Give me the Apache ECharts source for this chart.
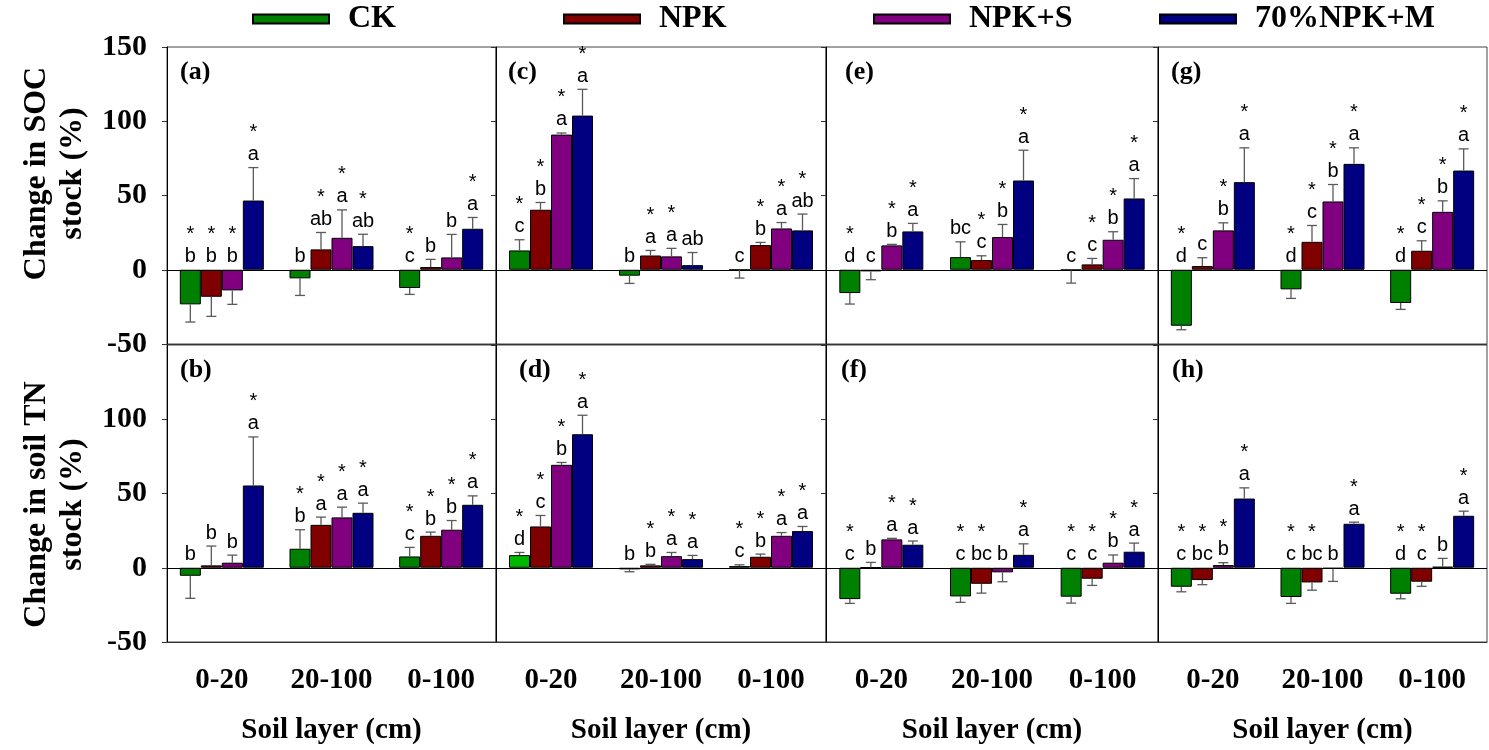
<!DOCTYPE html>
<html>
<head>
<meta charset="utf-8">
<title>Change in SOC and TN stock</title>
<script src="https://cdn.jsdelivr.net/npm/echarts@6/dist/echarts.min.js"></script>
<style>
  html, body { margin: 0; padding: 0; background: #fff; }
  #chart { width: 1489px; height: 750px; }
</style>
</head>
<body>
<div id="chart"></div>
<script>
// categories and treatments
var layers = ['0-20', '20-100', '0-100']
var treatments = ['CK', 'NPK', 'NPK+S', '70%NPK+M']
var colors = ['#008000', '#800000', '#800080', '#000080']

// values per treatment [CK, NPK, NPK+S, 70%NPK+M], each over the three layers
// '*x' = letter x with asterisk above
var meanA = [[-23.3, -5.8, -12.3], [-18.2, 13.7, 1.8], [-13.9, 21.5, 8.3], [46.6, 15.9, 27.6]]
var errA = [[11.9, 11.5, 4.3], [13.2, 11.4, 5.2], [9.4, 18.8, 15.5], [22.2, 8.0, 7.6]]
var sigA = [['*b', 'b', '*c'], ['*b', '*ab', 'b'], ['*b', '*a', 'b'], ['*a', '*ab', '*a']]

var meanB = [[-5.4, 12.8, 7.6], [1.6, 28.9, 21.5], [3.4, 33.9, 25.6], [55.4, 37.0, 42.4]]
var errB = [[15.2, 12.8, 6.1], [13.0, 5.2, 2.5], [5.1, 6.9, 6.2], [32.7, 6.5, 6.0]]
var sigB = [['b', '*b', '*c'], ['b', '*a', '*b'], ['b', '*a', '*b'], ['*a', '*a', '*a']]

var meanC = [[13.0, -4.0, -0.2], [40.4, 9.6, 16.6], [91.0, 9.0, 27.8], [103.8, 3.1, 26.5]]
var errC = [[7.2, 5.2, 5.4], [4.9, 3.4, 1.8], [1.1, 5.4, 4.0], [17.7, 8.5, 11.0]]
var sigC = [['*c', 'b', 'c'], ['*b', '*a', '*b'], ['*a', '*a', '*a'], ['*a', 'ab', '*ab']]

var meanD = [[8.5, -1.1, 1.1], [27.8, 1.6, 7.4], [69.3, 7.8, 21.5], [89.9, 5.8, 24.7]]
var errD = [[1.8, 1.6, 0.9], [7.4, 0.7, 1.8], [1.6, 2.5, 2.2], [12.8, 2.5, 3.1]]
var sigD = [['*d', 'b', '*c'], ['*c', '*b', '*b'], ['*b', '*a', '*a'], ['*a', '*a', '*a']]

var meanE = [[-15.7, 8.5, -0.3], [-1.1, 6.5, 3.6], [16.4, 22.0, 20.2], [25.8, 60.1, 48.0]]
var errE = [[7.4, 10.3, 8.7], [5.6, 2.9, 4.0], [0.7, 8.5, 5.4], [5.4, 20.4, 13.4]]
var sigE = [['*d', 'bc', 'c'], ['c', '*c', '*c'], ['*b', '*b', '*b'], ['*a', '*a', '*a']]

var meanF = [[-21.1, -19.3, -19.5], [0.2, -10.8, -7.4], [19.1, -3.1, 3.4], [15.5, 8.7, 10.8]]
var errF = [[2.9, 4.0, 4.3], [3.4, 6.3, 4.5], [0.7, 6.3, 5.2], [2.5, 7.4, 5.8]]
var sigF = [['*c', '*c', '*c'], ['b', '*bc', '*c'], ['*a', 'b', '*b'], ['*a', '*a', '*a']]

var meanG = [[-37.7, -13.2, -22.4], [2.5, 18.8, 12.8], [26.5, 46.0, 39.0], [59.0, 71.3, 66.8]]
var errG = [[2.7, 6.1, 4.3], [5.6, 11.0, 6.7], [5.1, 11.4, 7.4], [23.1, 10.8, 14.6]]
var sigG = [['*d', '*d', '*d'], ['c', '*c', '*c'], ['*b', '*b', '*b'], ['*a', '*a', '*a']]

var meanH = [[-12.8, -19.7, -17.5], [-8.3, -9.9, -9.4], [1.8, -0.7, 0.7], [46.6, 29.6, 35.0]]
var errH = [[3.4, 4.3, 3.4], [3.1, 5.2, 3.1], [1.6, 8.5, 5.6], [7.2, 1.1, 3.1]]
var sigH = [['*c', '*c', '*d'], ['*bc', '*bc', '*c'], ['*b', 'b', 'b'], ['*a', '*a', '*a']]

var yTitles = ['Change in SOC\nstock (%)', 'Change in soil TN\nstock (%)']

var panels = [
  { id: 'a', row: 0, col: 0, mean: meanA, err: errA, sig: sigA, tx: 13 },
  { id: 'c', row: 0, col: 1, mean: meanC, err: errC, sig: sigC, tx: 12 },
  { id: 'e', row: 0, col: 2, mean: meanE, err: errE, sig: sigE, tx: 19 },
  { id: 'g', row: 0, col: 3, mean: meanG, err: errG, sig: sigG, tx: 13 },
  { id: 'b', row: 1, col: 0, mean: meanB, err: errB, sig: sigB, tx: 13 },
  { id: 'd', row: 1, col: 1, mean: meanD, err: errD, sig: sigD, tx: 23 },
  { id: 'f', row: 1, col: 2, mean: meanF, err: errF, sig: sigF, tx: 15 },
  { id: 'h', row: 1, col: 3, mean: meanH, err: errH, sig: sigH, tx: 14 }
]

var SERIF = '"Liberation Serif", "DejaVu Serif", serif'
var SANS = '"Liberation Sans", Arial, sans-serif'
var BAR_W = 21
var colLeft = [167, 496, 826, 1158]
var colWidth = [329, 330, 332, 329]
var rowTop = [47, 345]
var PANEL_H = 297
// shift of the rotated y titles along the axis (padding left / right in text frame)
var titlePad = [[0, 0, 0, 44], [0, 22, 0, 0]]

function errorRenderer(items) {
  return function(params, api) {
    var it = items[params.dataIndex]
    var v = it.v
    var zero = api.coord([it.l, 0])
    var x = zero[0] + (it.s - 1.5) * BAR_W
    var yBar = api.coord([it.l, v])[1]
    var yEnd = api.coord([it.l, v >= 0 ? v + it.e : v - it.e])[1]
    var refY = v >= 0 ? yEnd : zero[1]
    var star = it.sig.charAt(0) === '*'
    var letter = star ? it.sig.slice(1) : it.sig
    var lineStyle = { stroke: '#5a5a5a', lineWidth: 1.3 }
    var children = [
      { type: 'line', shape: { x1: x, y1: yBar, x2: x, y2: yEnd }, style: lineStyle },
      { type: 'line', shape: { x1: x - 5, y1: yEnd, x2: x + 5, y2: yEnd }, style: lineStyle },
      {
        type: 'text',
        style: { text: letter, x: x, y: refY - 3, align: 'center', verticalAlign: 'bottom',
          fontSize: 20, fontFamily: SANS, fill: '#000' }
      }
    ]
    if (star) {
      children.push({
        type: 'text',
        style: { text: '*', x: x, y: refY - 25, align: 'center', verticalAlign: 'bottom',
          fontSize: 20, fontFamily: SANS, fill: '#000' }
      })
    }
    return { type: 'group', children: children }
  }
}

var option = {
  animation: false,
  backgroundColor: '#fff',
  title: [],
  legend: [],
  grid: [],
  xAxis: [],
  yAxis: [],
  series: []
}

var legendLeft = [252, 563, 873, 1159]
treatments.forEach(function(name, k) {
  option.legend.push({
    data: [name],
    left: legendLeft[k],
    top: 3,
    padding: 0,
    itemWidth: 76,
    itemHeight: 9,
    icon: 'rect',
    selectedMode: false,
    textStyle: { fontFamily: SERIF, fontWeight: 'bold', fontSize: 32, color: '#000', padding: [0, 0, 0, 14] }
  })
})

panels.forEach(function(p, i) {
  var left = colLeft[p.col]
  var top = rowTop[p.row]
  var bottomRow = p.row === 1
  option.grid.push({
    left: left, top: top, width: colWidth[p.col], height: PANEL_H,
    show: true, borderColor: '#444', borderWidth: 1, backgroundColor: 'transparent'
  })
  option.title.push({
    text: '(' + p.id + ')',
    left: left + p.tx,
    top: top + 12,
    padding: 0,
    textStyle: { fontFamily: SERIF, fontWeight: 'bold', fontSize: 26, color: '#000' }
  })
  option.xAxis.push({
    type: 'category',
    gridIndex: i,
    data: layers,
    axisLine: { onZero: false, lineStyle: { color: '#333' } },
    axisTick: { alignWithLabel: true, inside: !bottomRow, length: 5, lineStyle: { color: '#333' } },
    axisLabel: {
      show: bottomRow, margin: 24, interval: 0,
      fontFamily: SERIF, fontWeight: 'bold', fontSize: 29, color: '#000'
    },
    name: bottomRow ? 'Soil layer (cm)' : '',
    nameLocation: 'middle',
    nameGap: 74,
    nameTextStyle: { fontFamily: SERIF, fontWeight: 'bold', fontSize: 29, color: '#000' }
  })
  option.yAxis.push({
    type: 'value',
    gridIndex: i,
    min: -50,
    max: 150,
    interval: 50,
    splitLine: { show: false },
    axisLine: { show: true, lineStyle: { color: '#000' } },
    axisTick: { show: true, length: 5, lineStyle: { color: '#333' } },
    axisLabel: {
      show: p.col === 0, showMaxLabel: !bottomRow, margin: 20,
      fontFamily: SERIF, fontWeight: 'bold', fontSize: 30, color: '#000'
    },
    name: p.col === 0 ? yTitles[p.row] : '',
    nameLocation: 'middle',
    nameRotate: 90,
    nameGap: 76,
    nameTextStyle: {
      fontFamily: SERIF, fontWeight: 'bold', fontSize: 32, lineHeight: 36, color: '#000',
      padding: titlePad[p.row]
    }
  })

  treatments.forEach(function(name, s) {
    var color = colors[s]
    if (p.id === 'd' && s === 0) color = '#00b800'
    var ser = {
      type: 'bar',
      name: name,
      xAxisIndex: i,
      yAxisIndex: i,
      data: p.mean[s],
      barWidth: BAR_W,
      barGap: '0%',
      itemStyle: { color: color, borderColor: '#000', borderWidth: 1 }
    }
    if (s === 0) {
      ser.markLine = {
        silent: true,
        symbol: 'none',
        label: { show: false },
        lineStyle: { color: '#000', width: 1, type: 'solid' },
        data: [{ yAxis: 0 }]
      }
    }
    option.series.push(ser)
  })

  var items = []
  var data = []
  for (var s = 0; s < 4; s++) {
    for (var l = 0; l < 3; l++) {
      items.push({ s: s, l: l, v: p.mean[s][l], e: p.err[s][l], sig: p.sig[s][l] })
      data.push([l, p.mean[s][l], p.err[s][l], s])
    }
  }
  option.series.push({
    type: 'custom',
    name: 'err-' + p.id,
    xAxisIndex: i,
    yAxisIndex: i,
    z: 5,
    silent: true,
    encode: { x: 0, y: 1 },
    data: data,
    renderItem: errorRenderer(items)
  })
})

var chart = echarts.init(document.getElementById('chart'))
chart.setOption(option)
</script>
</body>
</html>
